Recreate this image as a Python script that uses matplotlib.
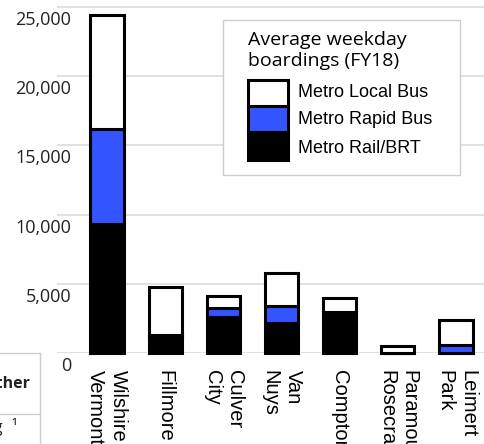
import matplotlib
matplotlib.use("Agg")
import matplotlib.pyplot as plt
import matplotlib.transforms as mtransforms
from matplotlib.patches import Rectangle
from matplotlib.lines import Line2D

# ---- data ----
categories = ["Wilshire\nVermont", "Fillmore", "Culver\nCity", "Van\nNuys",
              "Compton", "Paramount\nRosecrans", "Leimert\nPark"]
rail = [9300, 1250, 2600, 2150, 2950, 0, 0]
rapid = [6900, 80, 650, 1250, 0, 0, 550]
local = [8200, 3470, 900, 2350, 1050, 500, 1850]
yticks = [0, 5000, 10000, 15000, 20000, 25000]
ytick_labels = ["0", "5,000", "10,000", "15,000", "20,000", "25,000"]
series_names = ["Metro Local Bus", "Metro Rapid Bus", "Metro Rail/BRT"]
legend_title = "Average weekday\nboardings (FY18)"

BLUE = "#3355FF"
W, H = 484, 444

fig = plt.figure(figsize=(W / 100, H / 100), dpi=100)
ax = fig.add_axes([57 / W, 91 / H, 427 / W, 353 / H])

x = list(range(len(categories)))
width = 0.57
lw = 2.2
bottom2 = [a + b for a, b in zip(rail, rapid)]
ax.bar(x, rail, width, color="black", edgecolor="black", linewidth=lw, clip_on=False, zorder=3)
ax.bar(x, rapid, width, bottom=rail, color=BLUE, edgecolor="black", linewidth=lw, clip_on=False, zorder=3)
ax.bar(x, local, width, bottom=bottom2, color="white", edgecolor="black", linewidth=lw, clip_on=False, zorder=3)

ax.set_xlim(-0.86, 6.48)
ax.set_ylim(0, 25506)
for s in ax.spines.values():
    s.set_visible(False)
ax.yaxis.grid(True, color="#dcdcdc", linewidth=1.2)
ax.set_axisbelow(True)

ax.set_yticks(yticks, ytick_labels, fontfamily="Open Sans", fontsize=13, color="#222222")
ax.tick_params(axis="y", length=0, pad=0)
off = mtransforms.ScaledTranslation(14 / 100, -11 / 100, fig.dpi_scale_trans)
for tick in ax.yaxis.get_major_ticks():
    tick.label1.set_transform(tick.label1.get_transform() + off)

ax.set_xticks(x, categories, rotation=270, ha="center", va="top", ma="left",
              fontfamily="Liberation Sans", fontsize=14.5, linespacing=1.25)
ax.tick_params(axis="x", length=0, pad=12.5)

# ---- legend (drawn in figure pixel coordinates) ----
def fx(px):
    return px / W

def fy(py):
    return 1 - py / H

fig.add_artist(Rectangle((fx(223), fy(175)), (460 - 223) / W, (175 - 20) / H,
                         transform=fig.transFigure, facecolor="white",
                         edgecolor="#cccccc", linewidth=1.0, zorder=5))
t1, t2 = legend_title.split("\n")
fig.text(fx(248), fy(45), t1, fontfamily="Open Sans", fontsize=14, va="baseline", ha="left", zorder=6)
fig.text(fx(248), fy(66), t2, fontfamily="Open Sans", fontsize=14, va="baseline", ha="left", zorder=6)

sw_x0, sw_x1 = 247.5, 287.5
segs = [(80, 106.5, "white"), (106.5, 131.7, BLUE), (131.7, 159.5, "black")]
for y0, y1, c in segs:
    fig.add_artist(Rectangle((fx(sw_x0), fy(y1)), (sw_x1 - sw_x0) / W, (y1 - y0) / H,
                             transform=fig.transFigure, facecolor=c,
                             edgecolor="black", linewidth=lw, zorder=6))
for name, yb in zip(series_names, [96.7, 124.3, 152.7]):
    fig.text(fx(298), fy(yb), name, fontfamily="Liberation Sans", fontsize=13,
             va="baseline", ha="left", zorder=7)

# ---- fragment of neighbouring table (bottom left) ----
fig.add_artist(Line2D([0, fx(40)], [fy(353), fy(353)], transform=fig.transFigure, color="#cccccc", lw=1))
fig.add_artist(Line2D([fx(40), fx(40)], [fy(353), 0], transform=fig.transFigure, color="#cccccc", lw=1))
fig.add_artist(Line2D([0, fx(40)], [fy(414), fy(414)], transform=fig.transFigure, color="#cccccc", lw=1))
fig.text(fx(30), fy(388), "Other", fontfamily="Open Sans", fontweight="bold", fontsize=11.5,
         ha="right", va="baseline", color="#222222")
fig.text(fx(3), fy(432), "ing", fontfamily="Open Sans", fontsize=11.5, ha="right", va="baseline", color="#222222")
fig.text(fx(11), fy(432), "\u00b9", fontfamily="Open Sans", fontsize=11.5, ha="left", va="baseline", color="#222222")

fig.savefig("out.png", dpi=100)
